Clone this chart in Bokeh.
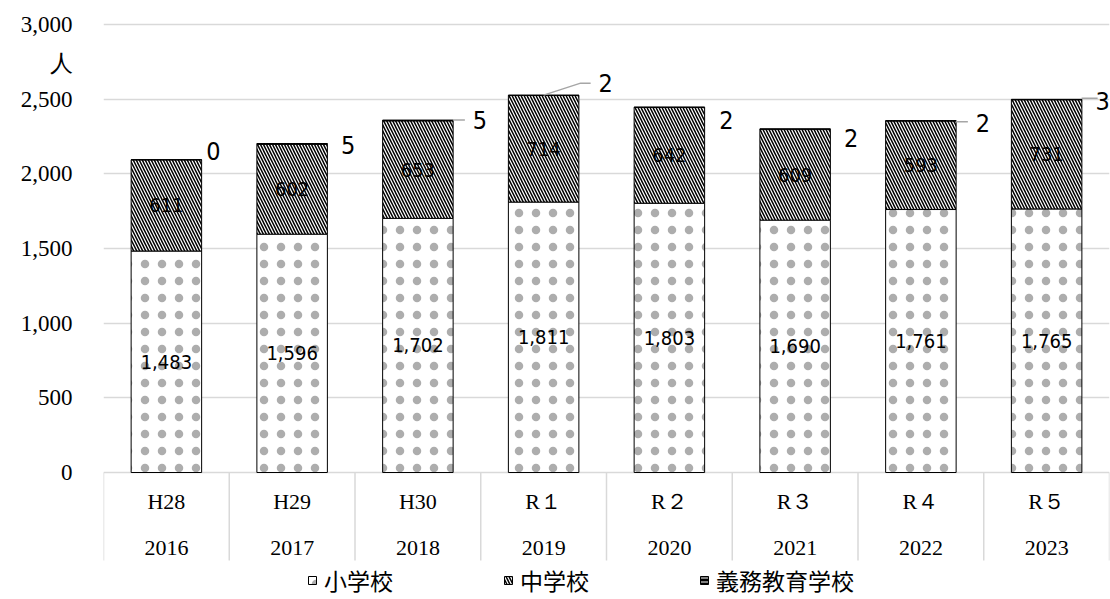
import numpy as np
from bokeh.plotting import figure
from bokeh.models import (ColumnDataSource, Range1d, FixedTicker, NumeralTickFormatter,
                          Legend, LegendItem)
from bokeh.core.properties import value
from bokeh.embed import file_html
from bokeh.resources import INLINE

# ---------------- data ----------------
era_labels = ["H28", "H29", "H30", "R１", "R２", "R３", "R４", "R５"]
year_labels = ["2016", "2017", "2018", "2019", "2020", "2021", "2022", "2023"]
elementary = [1483, 1596, 1702, 1811, 1803, 1690, 1761, 1765]      # 小学校
junior_high = [611, 602, 653, 714, 642, 609, 593, 731]              # 中学校
compulsory = [0, 5, 5, 2, 2, 2, 2, 3]                               # 義務教育学校
series_names = ["小学校", "中学校", "義務教育学校"]
y_ticks = [0, 500, 1000, 1500, 2000, 2500, 3000]
unit_label = "人"

# ---------------- layout / style ----------------
W, H = 1110, 599
BORDER_LEFT, BORDER_RIGHT, BORDER_TOP = 103, 1, 14
FRAME_W = W - BORDER_LEFT - BORDER_RIGHT
FRAME_H = H - BORDER_TOP
PX_PER_UNIT = 448 / 3000.0
Y_END = 3000 + 10 / PX_PER_UNIT
Y_START = Y_END - FRAME_H / PX_PER_UNIT
n = len(era_labels)
X_PER_PX = n / FRAME_W
BAR_W = 70.5 * X_PER_PX

ROW1_PX, ROW2_PX, SEP_PX = 29, 75, 88       # below the zero line
UNIT_TICK = 2740

NUM_FONT = "Liberation Serif"
LBL_FONT = "DejaVu Sans Condensed"
CJK_FONT = "Noto Sans CJK JP"
GRID = "#d9d9d9"

# label offsets for the small series (px from bar-top centre; x right, y down)
small_dx = [47, 56, 62, 62, 57, 56, 62, 56]
small_dy = [-9, 1, 0, -12, 13, 9, 2, 2]
# leader lines (px from bar-top centre; x right, y up)
leaders = {2: [(35, 0), (47, 0)],
           3: [(0, 0), (37, 12), (47, 12)],
           6: [(35, -1), (47, -1)],
           7: [(35, 1), (51, 1)]}

xc = np.arange(n) + 0.5
elem = np.array(elementary, dtype=float)
jhs = np.array(junior_high, dtype=float)
comp = np.array(compulsory, dtype=float)
top1 = elem
top2 = elem + jhs
top3 = top2 + comp

src = ColumnDataSource(dict(
    x=xc, b1=np.zeros(n), t1=top1, b2=top1, t2=top2, b3=top2, t3=top3,
    m1=elem / 2, m2=elem + jhs / 2,
    l1=[f"{v:,}" for v in elementary], l2=[f"{v:,}" for v in junior_high],
    l3=[str(v) for v in compulsory],
    dx=small_dx, dy=small_dy,
))

p = figure(width=W, height=H, output_backend="svg", toolbar_location=None,
           x_range=Range1d(0, n), y_range=Range1d(Y_START, Y_END),
           x_axis_location=None, min_border_left=BORDER_LEFT,
           min_border_right=BORDER_RIGHT, min_border_top=BORDER_TOP,
           min_border_bottom=0)
p.outline_line_color = None
p.xgrid.visible = False
p.ygrid.ticker = FixedTicker(ticks=y_ticks)
p.ygrid.grid_line_color = GRID
p.ygrid.grid_line_width = 1.5

ax = p.yaxis[0]
ax.ticker = FixedTicker(ticks=y_ticks + [UNIT_TICK])
ax.formatter = NumeralTickFormatter(format="0,0")
ax.major_label_overrides = {UNIT_TICK: unit_label}
ax.axis_line_color = None
ax.major_tick_line_color = None
ax.minor_tick_line_color = None
ax.major_tick_out = 0
ax.major_tick_in = 0
ax.major_label_standoff = 31
ax.major_label_text_font = NUM_FONT
ax.major_label_text_font_size = "23px"
ax.major_label_text_color = "black"

# category separators below the zero line
bounds = np.arange(n + 1)
p.segment(x0=bounds, y0=np.zeros(n + 1), x1=bounds,
          y1=np.full(n + 1, -SEP_PX / PX_PER_UNIT),
          line_color=GRID, line_width=1.5)

# bars
r1 = p.vbar(x="x", bottom="b1", top="t1", width=BAR_W, source=src,
            fill_color="white", line_color="black", line_width=1,
            hatch_pattern="dot", hatch_color="black", hatch_alpha=0.32,
            hatch_scale=17, hatch_weight=0.2)
r2 = p.vbar(x="x", bottom="b2", top="t2", width=BAR_W, source=src,
            fill_color="white", line_color="black", line_width=1,
            hatch_pattern="left_diagonal_line", hatch_color="black", hatch_scale=6,
            hatch_weight=1.5)
r3 = p.vbar(x="x", bottom="b3", top="t3", width=BAR_W, source=src,
            fill_color="black", line_color="black", line_width=1,
            hatch_pattern="horizontal_line", hatch_color="white", hatch_scale=4,
            hatch_weight=1)

# in-bar labels
p.text(x="x", y="m1", text="l1", source=src, text_font=value(LBL_FONT),
       text_font_size="20px", text_align="center", text_baseline="middle",
       text_color="black")
p.text(x="x", y="m2", text="l2", source=src, text_font=value(LBL_FONT),
       text_font_size="20px", text_align="center", text_baseline="middle",
       text_color="black")

# small series labels + leaders
p.text(x="x", y="t3", text="l3", x_offset="dx", y_offset="dy", source=src,
       text_font=value(LBL_FONT), text_font_size="25px", text_align="center",
       text_baseline="middle", text_color="black")
lx, ly = [], []
for i, pts in leaders.items():
    lx.append([xc[i] + px * X_PER_PX for px, _ in pts])
    ly.append([top3[i] + py / PX_PER_UNIT for _, py in pts])
p.multi_line(xs=lx, ys=ly, line_color="#a6a6a6", line_width=1.5)

# category labels
p.text(x=xc, y=np.full(n, -ROW1_PX / PX_PER_UNIT), text=era_labels,
       text_font=value(NUM_FONT), text_font_size="22px", text_align="center",
       text_baseline="middle", text_color="black")
p.text(x=xc, y=np.full(n, -ROW2_PX / PX_PER_UNIT), text=year_labels,
       text_font=value(NUM_FONT), text_font_size="22px", text_align="center",
       text_baseline="middle", text_color="black")

legend = Legend(items=[LegendItem(label=series_names[0], renderers=[r1]),
                       LegendItem(label=series_names[1], renderers=[r2]),
                       LegendItem(label=series_names[2], renderers=[r3])],
                orientation="horizontal", location=(204, 2),
                glyph_width=10, glyph_height=10, label_standoff=7, spacing=110,
                padding=0, margin=0, border_line_color=None,
                background_fill_alpha=0,
                label_text_font=CJK_FONT, label_text_font_size="23px",
                label_text_color="black")
p.add_layout(legend)

open("out.html", "w").write(file_html(p, INLINE))
